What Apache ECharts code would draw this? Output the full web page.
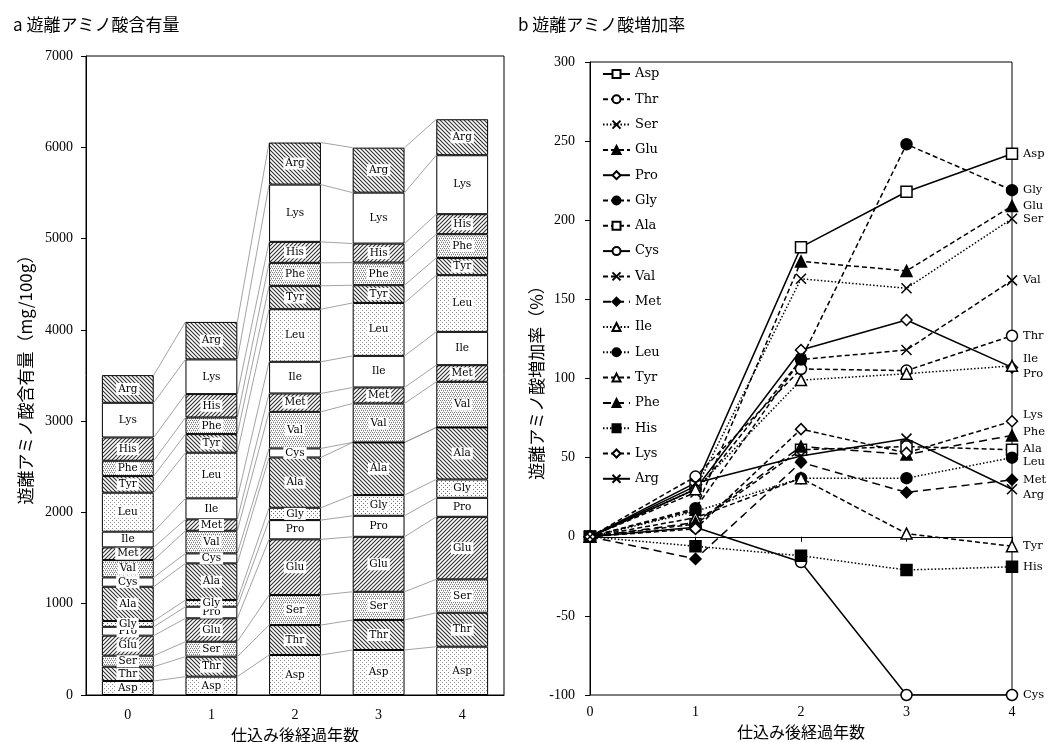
<!DOCTYPE html>
<html>
<head>
<meta charset="utf-8">
<script src="https://cdn.jsdelivr.net/npm/echarts@6/dist/echarts.min.js"></script>
<style>
  html, body { margin: 0; padding: 0; background: #fff; }
  #chart { width: 1047px; height: 742px; }
</style>
</head>
<body>
<div id="chart"></div>
<script>
// Years after brewing
const years = ['0', '1', '2', '3', '4'];
const aminoAcids = ['Asp', 'Thr', 'Ser', 'Glu', 'Pro', 'Gly', 'Ala', 'Cys', 'Val',
                    'Met', 'Ile', 'Leu', 'Tyr', 'Phe', 'His', 'Lys', 'Arg'];

// Free amino acid content (mg/100g), years 0-4
const contentAsp = [153, 201, 438, 493, 529];
const contentThr = [157, 219, 328, 328, 372];
const contentSer = [121, 164, 329, 310, 366];
const contentGlu = [219, 256, 610, 602, 685];
const contentPro = [97, 127, 211, 230, 208];
const contentGly = [63, 73, 135, 227, 201];
const contentAla = [376, 402, 551, 577, 570];
const contentCys = [102, 109, 99, 0, 0];
const contentVal = [190, 248, 401, 427, 500];
const contentMet = [139, 125, 201, 175, 182];
const contentIle = [172, 230, 347, 346, 365];
const contentLeu = [427, 500, 576, 580, 621];
const contentTyr = [182, 204, 256, 194, 189];
const contentPhe = [168, 182, 252, 248, 260];
const contentHis = [255, 256, 230, 208, 219];
const contentLys = [380, 380, 627, 558, 646];
const contentArg = [303, 411, 461, 493, 394];

// Increase rate of free amino acids (%), years 0-4
const rateAsp = [0, 32, 183, 218, 242];
const rateThr = [0, 38, 106, 105, 127];
const rateSer = [0, 30, 163, 157, 201];
const rateGlu = [0, 17, 174, 168, 209];
const ratePro = [0, 30, 118, 137, 107];
const rateGly = [0, 18, 112, 248, 219];
const rateAla = [0, 8, 55, 57, 55];
const rateCys = [0, 6, -16, -100, -100];
const rateVal = [0, 28, 112, 118, 162];
const rateMet = [0, -14, 47, 28, 36];
const rateIle = [0, 30, 99, 103, 108];
const rateLeu = [0, 16, 37, 37, 50];
const rateTyr = [0, 12, 37, 2, -6];
const ratePhe = [0, 9, 57, 52, 64];
const rateHis = [0, -6, -12, -21, -19];
const rateLys = [0, 5, 68, 53, 73];
const rateArg = [0, 34, 51, 62, 30];

const content = {
  Asp: contentAsp, Thr: contentThr, Ser: contentSer, Glu: contentGlu, Pro: contentPro,
  Gly: contentGly, Ala: contentAla, Cys: contentCys, Val: contentVal, Met: contentMet,
  Ile: contentIle, Leu: contentLeu, Tyr: contentTyr, Phe: contentPhe, His: contentHis,
  Lys: contentLys, Arg: contentArg
};
const rate = {
  Asp: rateAsp, Thr: rateThr, Ser: rateSer, Glu: rateGlu, Pro: ratePro,
  Gly: rateGly, Ala: rateAla, Cys: rateCys, Val: rateVal, Met: rateMet,
  Ile: rateIle, Leu: rateLeu, Tyr: rateTyr, Phe: ratePhe, His: rateHis,
  Lys: rateLys, Arg: rateArg
};

const SERIF = '"DejaVu Serif", "Liberation Serif", serif';
const NUM_FONT = '"Liberation Serif", "DejaVu Serif", serif';
const CJK = '"Noto Sans CJK JP", sans-serif';
const BAR_FRAC = 0.62;

// ---- fill patterns for the stacked bars ----
function makePattern(kind) {
  if (kind === 'white') return '#fff';
  const s = 4;
  const c = document.createElement('canvas');
  c.width = s; c.height = s;
  const g = c.getContext('2d');
  g.fillStyle = '#fff';
  g.fillRect(0, 0, s, s);
  if (kind === 'fineDots') {
    g.fillStyle = '#8e8e8e';
    g.fillRect(0, 0, 1, 1);
    g.fillRect(2, 2, 1, 1);
  } else if (kind === 'grayDots') {
    g.fillStyle = '#7e7e7e';
    g.fillRect(0, 0, 1, 1); g.fillRect(2, 0, 1, 1);
    g.fillRect(1, 2, 1, 1); g.fillRect(3, 2, 1, 1);
    g.fillStyle = '#c4c4c4';
    g.fillRect(1, 1, 1, 1); g.fillRect(3, 3, 1, 1);
  } else if (kind === 'coarseDots') {
    g.fillStyle = '#6a6a6a';
    g.fillRect(1, 1, 1, 1);
    g.fillRect(3, 3, 1, 1);
  } else {
    g.strokeStyle = '#303030';
    g.lineWidth = 1.1;
    g.beginPath();
    if (kind === 'hatchBack') {
      g.moveTo(-1, -1); g.lineTo(s + 1, s + 1);
      g.moveTo(s - 1, -1); g.lineTo(s + 1, 1);
      g.moveTo(-1, s - 1); g.lineTo(1, s + 1);
    } else {
      g.moveTo(-1, s + 1); g.lineTo(s + 1, -1);
      g.moveTo(-1, 1); g.lineTo(1, -1);
      g.moveTo(s - 1, s + 1); g.lineTo(s + 1, s - 1);
    }
    g.stroke();
  }
  return { image: c, repeat: 'repeat' };
}

const barFill = {
  Asp: 'fineDots', Thr: 'hatchBack', Ser: 'grayDots', Glu: 'hatchFwd', Pro: 'white',
  Gly: 'coarseDots', Ala: 'hatchBack', Cys: 'white', Val: 'grayDots', Met: 'hatchFwd',
  Ile: 'white', Leu: 'fineDots', Tyr: 'hatchBack', Phe: 'grayDots', His: 'hatchFwd',
  Lys: 'white', Arg: 'hatchBack'
};

// ---- line and marker look for the increase-rate chart ----
const CROSS = 'path://M0,0L10,10M10,0L0,10';
const DASH = [5, 3];
const DOT = [1.5, 2];
const LONG = [8, 5];
const lineLook = {
  Asp: { dash: 'solid', symbol: 'rect', open: true },
  Thr: { dash: DASH, symbol: 'circle', open: true },
  Ser: { dash: DOT, symbol: CROSS, open: false },
  Glu: { dash: DASH, symbol: 'triangle', open: false },
  Pro: { dash: 'solid', symbol: 'diamond', open: true },
  Gly: { dash: DASH, symbol: 'circle', open: false },
  Ala: { dash: DASH, symbol: 'rect', open: true },
  Cys: { dash: 'solid', symbol: 'circle', open: true },
  Val: { dash: DASH, symbol: CROSS, open: false },
  Met: { dash: LONG, symbol: 'diamond', open: false },
  Ile: { dash: DOT, symbol: 'triangle', open: true },
  Leu: { dash: DOT, symbol: 'circle', open: false },
  Tyr: { dash: DASH, symbol: 'triangle', open: true },
  Phe: { dash: LONG, symbol: 'triangle', open: false },
  His: { dash: DOT, symbol: 'rect', open: false },
  Lys: { dash: DASH, symbol: 'diamond', open: true },
  Arg: { dash: 'solid', symbol: CROSS, open: false }
};
// vertical nudges for the names written beside the year-4 points
const endLabelDy = { Ile: -7, Pro: 7, Lys: -6, Phe: -3, Ala: -1, Leu: 4, Arg: 6 };

// ---- series ----
const lineSeries = aminoAcids.map(name => {
  const look = lineLook[name];
  return {
    type: 'line',
    name: name,
    xAxisIndex: 1,
    yAxisIndex: 1,
    data: rate[name],
    symbol: look.symbol,
    symbolSize: look.symbol === CROSS ? 10 : 11,
    lineStyle: { color: '#000', width: 1.5, type: look.dash },
    itemStyle: {
      color: look.open ? '#fff' : '#000',
      borderColor: '#000',
      borderWidth: 1.5
    },
    endLabel: {
      show: true,
      formatter: p => p.seriesName,
      distance: 11,
      offset: [0, endLabelDy[name] || 0],
      fontFamily: SERIF,
      fontSize: 11.5,
      color: '#000'
    },
    emphasis: { disabled: true },
    z: 3
  };
});

const barSeries = aminoAcids.map(name => ({
  type: 'bar',
  name: name,
  stack: 'content',
  xAxisIndex: 0,
  yAxisIndex: 0,
  barWidth: (BAR_FRAC * 100) + '%',
  data: content[name].map(v => v > 0 ? v : { value: v, label: { show: false } }),
  itemStyle: { color: makePattern(barFill[name]), borderColor: '#000', borderWidth: 1 },
  label: {
    show: true,
    position: 'inside',
    formatter: '{a}',
    fontFamily: SERIF,
    fontSize: 10.5,
    color: '#000',
    backgroundColor: '#fff',
    padding: [1, 2, 0, 2]
  },
  emphasis: { disabled: true },
  z: 2
}));

// connecting lines between the top of each segment in neighbouring bars
const cumulative = aminoAcids.map(() => []);
years.forEach((y, i) => {
  let sum = 0;
  aminoAcids.forEach((name, k) => {
    sum += content[name][i];
    cumulative[k][i] = sum;
  });
});
const linkData = [];
for (let i = 0; i < years.length - 1; i++) {
  for (let k = 0; k < aminoAcids.length; k++) {
    linkData.push([i, cumulative[k][i], cumulative[k][i + 1]]);
  }
}
const linkSeries = {
  type: 'custom',
  name: 'segment links',
  xAxisIndex: 0,
  yAxisIndex: 0,
  data: linkData,
  encode: { x: 0, y: [1, 2] },
  silent: true,
  z: 1,
  renderItem: (params, api) => {
    const i = api.value(0);
    const a = api.coord([i, api.value(1)]);
    const b = api.coord([i + 1, api.value(2)]);
    const half = api.size([1, 0])[0] * BAR_FRAC / 2;
    return {
      type: 'line',
      shape: { x1: a[0] + half, y1: a[1], x2: b[0] - half, y2: b[1] },
      style: { stroke: '#8c8c8c', lineWidth: 0.8 }
    };
  }
};

const axisColor = '#000';
const tickLabel = { fontFamily: NUM_FONT, fontSize: 14, color: '#000', formatter: v => String(v) };
const jpName = { fontFamily: CJK, fontSize: 16, color: '#000' };

const option = {
  animation: false,
  backgroundColor: '#fff',
  title: [
    { text: 'a 遊離アミノ酸含有量', left: 8, top: 11,
      textStyle: { fontFamily: CJK, fontSize: 17, fontWeight: 'normal', color: '#000' } },
    { text: 'b 遊離アミノ酸増加率', left: 513, top: 11,
      textStyle: { fontFamily: CJK, fontSize: 17, fontWeight: 'normal', color: '#000' } }
  ],
  legend: {
    data: aminoAcids,
    orient: 'vertical',
    left: 602,
    top: 67,
    padding: 0,
    itemWidth: 27,
    itemHeight: 10,
    itemGap: 11.3,
    selectedMode: false,
    textStyle: { fontFamily: SERIF, fontSize: 13, color: '#000', lineHeight: 14 }
  },
  grid: [
    { left: 86, right: 543, top: 56, bottom: 47, outerBoundsMode: 'none', containLabel: false,
      show: true, borderColor: axisColor, borderWidth: 1 },
    { left: 590, right: 35, top: 62, bottom: 47, outerBoundsMode: 'none', containLabel: false,
      show: true, borderColor: axisColor, borderWidth: 1 }
  ],
  xAxis: [
    {
      type: 'category', gridIndex: 0, data: years,
      axisLine: { lineStyle: { color: axisColor } },
      axisTick: { length: 5, lineStyle: { color: axisColor } },
      axisLabel: Object.assign({}, tickLabel, { margin: 13 }),
      name: '仕込み後経過年数', nameLocation: 'middle', nameGap: 23, nameTextStyle: jpName
    },
    {
      type: 'category', gridIndex: 1, data: years, boundaryGap: false,
      axisLine: { lineStyle: { color: axisColor } },
      axisTick: { length: 5, lineStyle: { color: axisColor } },
      axisLabel: Object.assign({}, tickLabel, { margin: 10 }),
      name: '仕込み後経過年数', nameLocation: 'middle', nameGap: 23, nameTextStyle: jpName
    }
  ],
  yAxis: [
    {
      type: 'value', gridIndex: 0, min: 0, max: 7000, interval: 1000,
      splitLine: { show: false },
      axisLine: { show: true, lineStyle: { color: axisColor } },
      axisTick: { show: true, length: 5, lineStyle: { color: axisColor } },
      axisLabel: Object.assign({}, tickLabel, { margin: 13 }),
      name: '遊離アミノ酸含有量（mg/100g）', nameLocation: 'middle', nameGap: 52,
      nameTextStyle: Object.assign({}, jpName, { fontSize: 17 })
    },
    {
      type: 'value', gridIndex: 1, min: -100, max: 300, interval: 50,
      splitLine: { show: false },
      axisLine: { show: true, lineStyle: { color: axisColor } },
      axisTick: { show: true, length: 5, lineStyle: { color: axisColor } },
      axisLabel: Object.assign({}, tickLabel, { margin: 15 }),
      name: '遊離アミノ酸増加率（%）', nameLocation: 'middle', nameGap: 41,
      nameTextStyle: Object.assign({}, jpName, { fontSize: 17 })
    }
  ],
  // line series first so the legend takes its icons from them
  series: [...lineSeries, linkSeries, ...barSeries]
};

const chart = echarts.init(document.getElementById('chart'), null, { renderer: 'canvas' });
chart.setOption(option);
</script>
</body>
</html>
